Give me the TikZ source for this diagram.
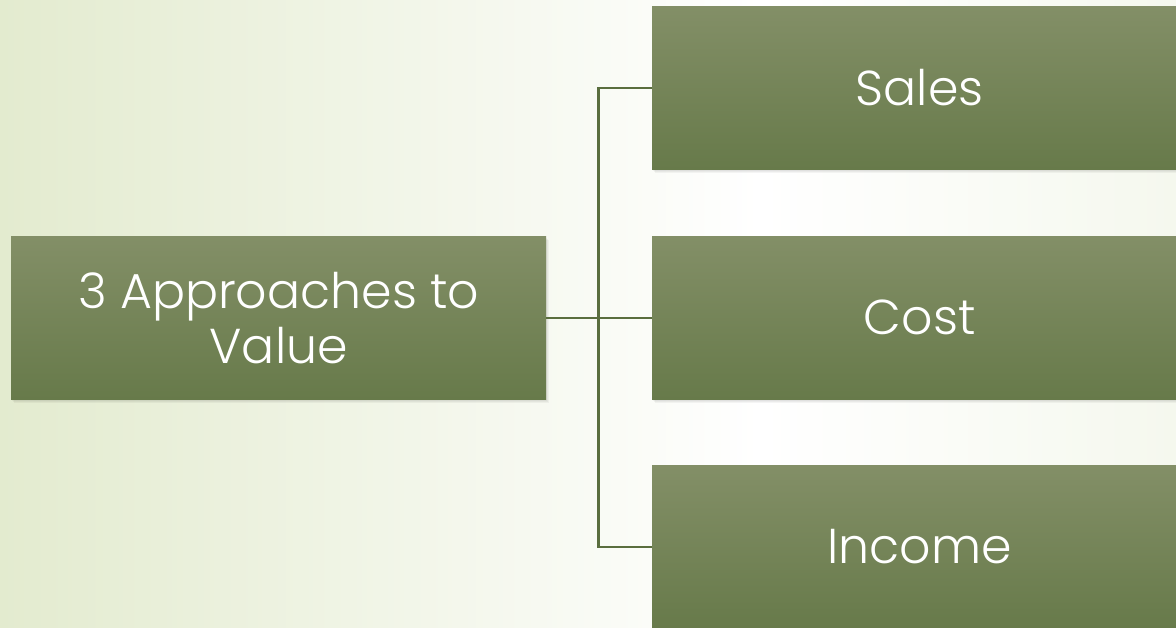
\documentclass[tikz,border=0pt]{standalone}
\usepackage{fontspec}
\setmainfont{Poppins}[UprightFont=* Light]
\definecolor{boxtop}{HTML}{838F67}
\definecolor{boxbot}{HTML}{677A4A}
\definecolor{linkcol}{HTML}{5A6E3E}
\definecolor{bgleft}{HTML}{E3EBCF}
\definecolor{bgright}{HTML}{F5F8EE}
\tikzset{
  stepbox/.style={rectangle, minimum width=535pt, minimum height=163pt,
    inner sep=0pt, top color=boxtop, bottom color=boxbot, draw=none,
    text=white, font=\fontsize{49}{55}\selectfont, align=center},
  boxshadow/.style={fill=black, opacity=0.04},
  link/.style={draw=linkcol, line width=2.2pt}
}
\begin{document}
\begin{tikzpicture}[x=1pt,y=-1pt]
  % canvas and background wash
  \useasboundingbox (0,0) rectangle (1176,627);
  \fill[white] (0,0) rectangle (1176,627);
  \shade[left color=bgleft, right color=white] (0,0) rectangle (760,627);
  \shade[left color=white, right color=bgright] (760,0) rectangle (1176,627);

  % soft drop shadows, built from a few stacked layers
  \foreach \x/\y in {11/236, 652/6, 652/236, 652/465}{
    \foreach \s in {1,2,3}{
      \fill[boxshadow] (\x+\s,\y+\s+1) rectangle (\x+535+\s,\y+163+\s+1);
    }
  }

  % boxes
  \node[stepbox, anchor=north west] (root) at (11,236) {3 Approaches to\\Value};
  \node[stepbox, anchor=north west] (sales) at (652,6) {Sales};
  \node[stepbox, anchor=north west] (cost) at (652,236) {Cost};
  \node[stepbox, anchor=north west] (income) at (652,465) {Income};

  % connectors
  \coordinate (fork) at ([xshift=52pt]root.east);
  \draw[link] (root.east) -- (fork);
  \draw[link] (fork) |- (sales.west);
  \draw[link] (fork) -- (cost.west);
  \draw[link] (fork) |- (income.west);
\end{tikzpicture}
\end{document}
